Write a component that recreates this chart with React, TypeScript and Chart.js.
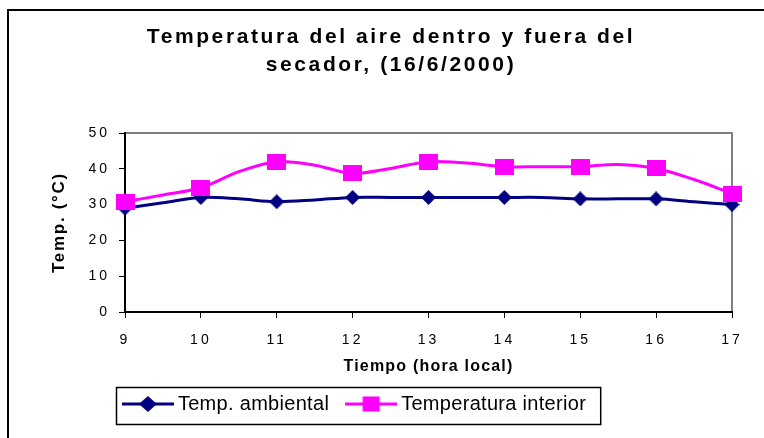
import React, { useEffect, useRef } from 'react';
import { Chart, registerables } from 'chart.js';

Chart.register(...registerables);

// ---------- data ----------
const TITLE_LINES = ['Temperatura del aire dentro y fuera del', 'secador, (16/6/2000)'];
const X_AXIS_TITLE = 'Tiempo (hora local)';
const Y_AXIS_TITLE = 'Temp. (°C)';
const SERIES_NAMES = ['Temp. ambiental', 'Temperatura interior'];

const HOURS = [9, 9.5, 10, 10.5, 11, 11.5, 12, 12.5, 13, 13.5, 14, 14.5, 15, 15.5, 16, 16.5, 17];
const TEMP_AMBIENTAL = [29, 30.5, 32, 31.6, 30.8, 31.3, 32, 32, 32, 32, 32, 32, 31.6, 31.6, 31.6, 30.8, 30];
const TEMP_INTERIOR = [30.8, 32.7, 34.7, 39.2, 42, 41, 38.7, 40.1, 42, 41.6, 40.6, 40.6, 40.6, 41.2, 40.1, 37, 33.1];

const X_MIN = 9;
const X_MAX = 17;
const X_STEP = 1;
const Y_MIN = 0;
const Y_MAX = 50;
const Y_STEP = 10;

// ---------- style ----------
const FONT = "'Liberation Sans', Arial, Helvetica, sans-serif";
const NAVY = '#000080';
const MAGENTA = '#FF00FF';
const TICK_LS = '3px';
const LEGEND_LS = '0.3px';
const LEGEND_FONT_SIZE = 20;
const LEGEND_ITEM_X = 128;
const CANVAS_W = 782;
const CANVAS_H = 438;

function makeImg(w: number, h: number, paint: (c: CanvasRenderingContext2D) => void) {
  const cv = document.createElement('canvas');
  cv.width = w;
  cv.height = h;
  const c = cv.getContext('2d') as CanvasRenderingContext2D;
  paint(c);
  return cv;
}

function diamondPath(c: CanvasRenderingContext2D, cx: number, cy: number, hw: number, hh: number) {
  c.beginPath();
  c.moveTo(cx, cy - hh);
  c.lineTo(cx + hw, cy);
  c.lineTo(cx, cy + hh);
  c.lineTo(cx - hw, cy);
  c.closePath();
}

function withSpacing(obj: any, name: string, ls: string) {
  const key = '__ls_' + name;
  if (!obj || obj[key]) return;
  obj[key] = true;
  const orig = obj[name];
  obj[name] = function (...args: any[]) {
    const ctx = this.ctx as any;
    ctx.save();
    ctx.letterSpacing = ls;
    try {
      return orig.apply(this, args);
    } finally {
      ctx.restore();
    }
  };
}

function patchLegend(legend: any) {
  if (!legend || legend.__patched) return;
  legend.__patched = true;
  withSpacing(legend, 'fit', LEGEND_LS);
  const origDraw = legend.draw;
  legend.draw = function (...args: any[]) {
    const ctx = this.ctx as any;
    const pad = this.options.labels.padding;
    const lw = this.lineWidths ? this.lineWidths[0] : 0;
    const xs = (this.left + pad + this.right - lw) / 2;
    const dx = Math.round(LEGEND_ITEM_X - xs);
    ctx.save();
    ctx.letterSpacing = LEGEND_LS;
    ctx.translate(dx, 0);
    origDraw.apply(this, args);
    ctx.restore();
    const cy = this.top + pad + LEGEND_FONT_SIZE / 2;
    const left = LEGEND_ITEM_X - 12;
    const right = LEGEND_ITEM_X + lw - pad + 14;
    ctx.save();
    ctx.strokeStyle = '#000';
    ctx.lineWidth = 1.5;
    ctx.strokeRect(left + 0.5, Math.round(cy - 17) + 0.5, right - left, 37);
    ctx.restore();
  };
}

const decorPlugin = {
  id: 'decor',
  beforeLayout(chart: any) {
    if (chart.titleBlock) withSpacing(chart.titleBlock, 'draw', '2.6px');
    patchLegend(chart.legend);
    const { x, y } = chart.scales;
    withSpacing(x, 'update', TICK_LS);
    withSpacing(x, 'drawLabels', TICK_LS);
    withSpacing(x, 'drawTitle', '1.2px');
    withSpacing(y, 'update', TICK_LS);
    withSpacing(y, 'drawLabels', TICK_LS);
    withSpacing(y, 'drawTitle', '1.7px');
  },
  beforeDraw(chart: any) {
    const { ctx, chartArea: a } = chart;
    ctx.save();
    ctx.strokeStyle = '#000';
    ctx.lineWidth = 2;
    ctx.beginPath();
    ctx.moveTo(8, chart.height);
    ctx.lineTo(8, 10);
    ctx.lineTo(chart.width, 10);
    ctx.stroke();
    ctx.strokeStyle = '#808080';
    ctx.lineWidth = 2;
    ctx.strokeRect(a.left, a.top, a.right - a.left, a.bottom - a.top);
    ctx.restore();
  },
};

export default function App() {
  const ref = useRef<HTMLCanvasElement | null>(null);

  useEffect(() => {
    if (!ref.current) return;
    const diamondImg = makeImg(15, 15, (c) => {
      c.fillStyle = NAVY;
      diamondPath(c, 7.5, 7.5, 7.5, 7.5);
      c.fill();
    });
    const squareImg = makeImg(19, 16, (c) => {
      c.fillStyle = MAGENTA;
      c.fillRect(0, 0, 19, 16);
    });
    const legendAmb = makeImg(52, 20, (c) => {
      c.strokeStyle = NAVY;
      c.lineWidth = 3;
      c.beginPath();
      c.moveTo(0, 10);
      c.lineTo(52, 10);
      c.stroke();
      c.fillStyle = NAVY;
      diamondPath(c, 26, 10, 9, 8);
      c.fill();
    });
    const legendInt = makeImg(52, 20, (c) => {
      c.strokeStyle = MAGENTA;
      c.lineWidth = 3;
      c.beginPath();
      c.moveTo(0, 10);
      c.lineTo(52, 10);
      c.stroke();
      c.fillStyle = MAGENTA;
      c.fillRect(26 - 8.5, 10 - 7.5, 17, 15);
    });
    const legendImgs = [legendAmb, legendInt];
    const markerRadius = HOURS.map((h) => (Number.isInteger(h) ? 8 : 0));

    const chart = new Chart(ref.current, {
      type: 'line',
      data: {
        datasets: [
          {
            label: SERIES_NAMES[0],
            data: HOURS.map((h, i) => ({ x: h, y: TEMP_AMBIENTAL[i] })),
            borderColor: NAVY,
            backgroundColor: NAVY,
            borderWidth: 3,
            pointStyle: diamondImg as any,
            pointRadius: markerRadius,
            tension: 0.33,
            order: 1,
            clip: false as any,
          },
          {
            label: SERIES_NAMES[1],
            data: HOURS.map((h, i) => ({ x: h, y: TEMP_INTERIOR[i] })),
            borderColor: MAGENTA,
            backgroundColor: MAGENTA,
            borderWidth: 3,
            pointStyle: squareImg as any,
            pointRadius: markerRadius,
            tension: 0.33,
            order: 0,
            clip: false as any,
          },
        ],
      },
      options: {
        animation: false,
        responsive: false,
        devicePixelRatio: 1,
        events: [],
        layout: { padding: { left: 50, right: 50, top: 0, bottom: 14 } },
        plugins: {
          tooltip: { enabled: false },
          title: {
            display: true,
            text: TITLE_LINES,
            color: '#000',
            font: { family: FONT, size: 21, weight: 'bold', lineHeight: 28 / 21 },
            padding: { top: 23, bottom: 54 },
          },
          legend: {
            display: true,
            position: 'bottom',
            labels: {
              usePointStyle: true,
              pointStyleWidth: 40,
              boxHeight: 20,
              padding: 22,
              color: '#000',
              font: { family: FONT, size: LEGEND_FONT_SIZE },
              generateLabels: (c: any) =>
                c.data.datasets.map((ds: any, i: number) => ({
                  text: ds.label,
                  fillStyle: ds.borderColor,
                  strokeStyle: ds.borderColor,
                  lineWidth: 0,
                  hidden: false,
                  pointStyle: legendImgs[i],
                  rotation: 0,
                  datasetIndex: i,
                  fontColor: '#000',
                })),
            },
          },
        },
        scales: {
          x: {
            type: 'linear',
            min: X_MIN,
            max: X_MAX,
            ticks: {
              stepSize: X_STEP,
              color: '#000',
              padding: 14,
              font: { family: FONT, size: 14 },
              callback: (v: any) => String(v),
            },
            grid: { drawOnChartArea: false, drawTicks: true, tickLength: 6, color: '#000', lineWidth: 1 },
            border: { display: true, color: '#000', width: 2 },
            title: {
              display: true,
              text: X_AXIS_TITLE,
              color: '#000',
              font: { family: FONT, size: 16, weight: 'bold', lineHeight: 1 },
              padding: { top: 0, bottom: -3 },
            },
            afterFit: (s: any) => {
              s.height = 60;
            },
          },
          y: {
            type: 'linear',
            min: Y_MIN,
            max: Y_MAX,
            ticks: {
              stepSize: Y_STEP,
              color: '#000',
              padding: 9,
              font: { family: FONT, size: 14 },
            },
            grid: { drawOnChartArea: false, drawTicks: true, tickLength: 6, color: '#000', lineWidth: 1 },
            border: { display: true, color: '#000', width: 2 },
            title: {
              display: true,
              text: Y_AXIS_TITLE,
              color: '#000',
              font: { family: FONT, size: 17, weight: 'bold', lineHeight: 1 },
              padding: { top: 0.5, bottom: 0 },
            },
            afterFit: (s: any) => {
              s.width = 75;
            },
          },
        },
      } as any,
      plugins: [decorPlugin as any],
    });
    return () => chart.destroy();
  }, []);

  return (
    <div
      style={{
        position: 'fixed',
        left: 0,
        top: 0,
        width: 764,
        height: 438,
        overflow: 'hidden',
        background: '#fff',
      }}
    >
      <canvas
        ref={ref}
        width={CANVAS_W}
        height={CANVAS_H}
        style={{ display: 'block', width: CANVAS_W, height: CANVAS_H }}
      />
    </div>
  );
}
